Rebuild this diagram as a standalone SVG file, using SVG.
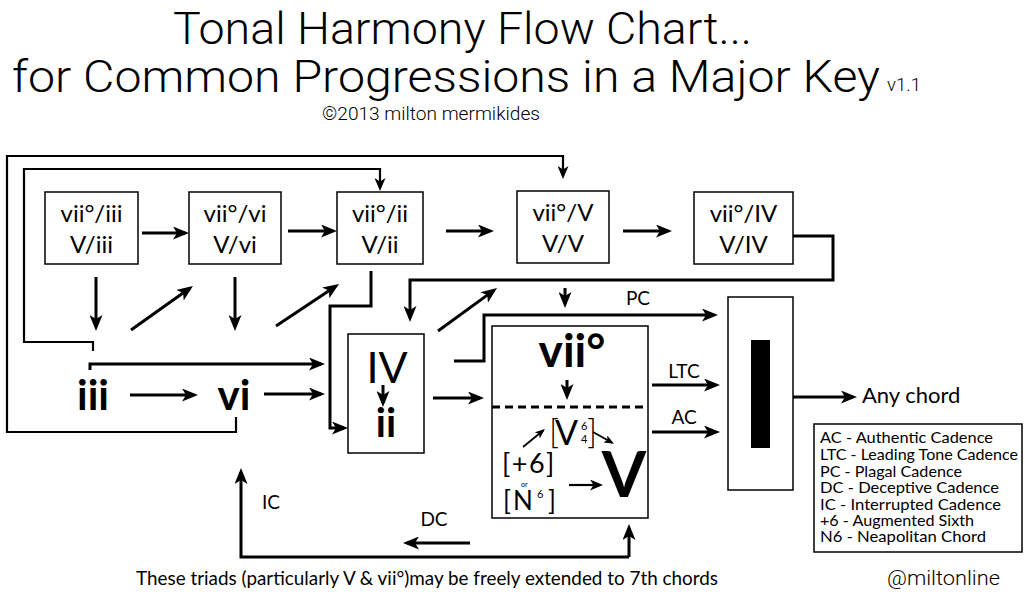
<svg xmlns="http://www.w3.org/2000/svg" width="1025" height="601" viewBox="0 0 1025 601">
<style>
.t{font-family:"Roboto","Liberation Sans",sans-serif;font-weight:300;fill:#000}
.g{font-family:"Lato","Open Sans",sans-serif;fill:#000}
.b{font-weight:700}
.box{fill:#fff;stroke:#000;stroke-width:1.5}
.c{fill:none;stroke:#000;stroke-width:3;marker-end:url(#a)}
.c2{fill:none;stroke:#000;stroke-width:2.2;marker-end:url(#a2)}
.cs{fill:none;stroke:#000;stroke-width:1.8;marker-end:url(#s)}
.lbl{font-size:19px;text-anchor:middle}
.bl{font-size:24px;text-anchor:middle}
.lg{font-size:15px}
</style>
<defs>
<marker id="a" viewBox="0 0 16 13" refX="12" refY="6.5" markerWidth="16" markerHeight="13" markerUnits="userSpaceOnUse" orient="auto"><path d="M0,0 L16,6.5 L0,13 L4,6.5 z" fill="#000"/></marker>
<marker id="a2" viewBox="0 0 13 11" refX="10" refY="5.5" markerWidth="13" markerHeight="11" markerUnits="userSpaceOnUse" orient="auto"><path d="M0,0 L13,5.5 L0,11 L3.5,5.5 z" fill="#000"/></marker>
<marker id="s" viewBox="0 0 10 8" refX="8" refY="4" markerWidth="10" markerHeight="8" markerUnits="userSpaceOnUse" orient="auto"><path d="M0,0 L10,4 L0,8 L2.5,4 z" fill="#000"/></marker>
</defs>
<rect width="1025" height="601" fill="#fff"/>

<g id="title">
<text class="t" x="173" y="44" font-size="44" textLength="579" lengthAdjust="spacingAndGlyphs">Tonal Harmony Flow Chart...</text>
<text class="t" x="12" y="92" font-size="44" textLength="868" lengthAdjust="spacingAndGlyphs">for Common Progressions in a Major Key</text>
<text class="t" x="887" y="91" font-size="19" textLength="34" lengthAdjust="spacingAndGlyphs">v1.1</text>
<text class="t" x="322" y="120" font-size="19" textLength="218" lengthAdjust="spacingAndGlyphs">©2013 milton mermikides</text>
</g>

<g id="n-vii-iii">
<rect class="box" x="45" y="192" width="93" height="72"/>
<text class="g bl" x="91.5" y="222">vii°/iii</text>
<text class="g bl" x="91.5" y="253">V/iii</text>
</g>
<g id="n-vii-vi">
<rect class="box" x="189" y="192" width="92" height="72"/>
<text class="g bl" x="235" y="222">vii°/vi</text>
<text class="g bl" x="235" y="253">V/vi</text>
</g>
<g id="n-vii-ii">
<rect class="box" x="337" y="192" width="86" height="72"/>
<text class="g bl" x="380" y="222">vii°/ii</text>
<text class="g bl" x="380" y="253">V/ii</text>
</g>
<g id="n-vii-V">
<rect class="box" x="517" y="191" width="92" height="72"/>
<text class="g bl" x="563" y="221">vii°/V</text>
<text class="g bl" x="563" y="252">V/V</text>
</g>
<g id="n-vii-IV">
<rect class="box" x="694" y="192" width="99" height="72"/>
<text class="g bl" x="743.5" y="222">vii°/IV</text>
<text class="g bl" x="743.5" y="253">V/IV</text>
</g>

<g id="n-iii">
<text class="g b" x="93" y="410" font-size="42" text-anchor="middle">iii</text>
</g>
<g id="n-vi">
<text class="g b" x="234" y="410" font-size="42" text-anchor="middle">vi</text>
</g>

<g id="n-IV-ii">
<rect class="box" x="348" y="334" width="76" height="119"/>
<text class="g" x="387" y="383" font-size="43" text-anchor="middle">IV</text>
<text class="g b" x="386" y="437" font-size="40" text-anchor="middle">ii</text>
</g>

<g id="n-vii-V-main">
<rect class="box" x="492" y="326" width="156" height="192"/>
<line x1="492" y1="407" x2="648" y2="407" stroke="#000" stroke-width="3" stroke-dasharray="8,5"/>
<text class="g b" x="572" y="367" font-size="46" text-anchor="middle">vii°</text>
<text class="g"><tspan x="549" y="444" font-size="34" font-weight="300">[</tspan><tspan x="555" y="445" font-size="34">V</tspan><tspan x="581" y="430" font-size="11">6</tspan><tspan x="581" y="443" font-size="11">4</tspan><tspan x="587" y="444" font-size="34" font-weight="300">]</tspan></text>
<text class="g"><tspan x="502" y="473" font-size="27" letter-spacing="1.5">[+6]</tspan><tspan x="521" y="487" font-size="7">or</tspan><tspan x="503" y="510" font-size="26" letter-spacing="2">[N</tspan><tspan x="537" y="498" font-size="11">6</tspan><tspan x="548" y="510" font-size="26">]</tspan></text>
<text class="g b" x="624" y="497" font-size="64" text-anchor="middle">V</text>
</g>

<g id="n-I">
<rect class="box" x="728" y="297" width="65" height="193"/>
<rect x="751" y="340" width="19" height="108" fill="#000"/>
</g>

<g id="legend">
<rect class="box" x="814" y="424" width="208" height="128"/>
<text class="g lg" x="820" y="443" textLength="173" lengthAdjust="spacingAndGlyphs">AC - Authentic Cadence</text>
<text class="g lg" x="820" y="460" textLength="198" lengthAdjust="spacingAndGlyphs">LTC - Leading Tone Cadence</text>
<text class="g lg" x="820" y="477" textLength="142" lengthAdjust="spacingAndGlyphs">PC - Plagal Cadence</text>
<text class="g lg" x="820" y="493" textLength="179" lengthAdjust="spacingAndGlyphs">DC - Deceptive Cadence</text>
<text class="g lg" x="820" y="510" textLength="181" lengthAdjust="spacingAndGlyphs">IC - Interrupted Cadence</text>
<text class="g lg" x="820" y="526" textLength="154" lengthAdjust="spacingAndGlyphs">+6 - Augmented Sixth</text>
<text class="g lg" x="820" y="542" textLength="166" lengthAdjust="spacingAndGlyphs">N6 - Neapolitan Chord</text>
</g>

<g id="labels">
<text class="g lbl" x="638" y="305">PC</text>
<text class="g lbl" x="684" y="378">LTC</text>
<text class="g lbl" x="684" y="424">AC</text>
<text class="g lbl" x="434" y="526">DC</text>
<text class="g lbl" x="271" y="509">IC</text>
<text class="g" x="862" y="403" font-size="22">Any chord</text>
</g>

<g id="connectors">
<path class="c2" d="M236,417 V432 H7 V156 H563 V176"/>
<path class="c2" d="M93,351 V342 H24 V169 H380 V188"/>
<path class="c" d="M142,233 H185"/>
<path class="c" d="M288,231 H333"/>
<path class="c" d="M446,231 H490"/>
<path class="c" d="M623,231 H668"/>
<path class="c" d="M96,277 V327"/>
<path class="c" d="M131,330 L189.7,288.3"/>
<path class="c" d="M235,277 V327"/>
<path class="c" d="M276,326 L335.7,286.2"/>
<path class="c" d="M371,271 V306 H330 V428 H344"/>
<path class="c" d="M90,370 V364 H321"/>
<path class="c" d="M130,395 H194"/>
<path class="c" d="M264,394 H321"/>
<path class="c" d="M793,236 H833 V280 H410 V318"/>
<path class="c" d="M438,331 L493.8,290.4"/>
<path class="c" d="M454,361 H484 V315 H714"/>
<path class="c" d="M565,288 V304"/>
<path class="c" d="M383,385 V403"/>
<path class="c" d="M433,398 H480"/>
<path class="c" d="M567,380 V396"/>
<path class="c" d="M652,385 H716"/>
<path class="c" d="M652,432 H716"/>
<path class="c" d="M629,557 H241 V472"/>
<path class="c" d="M629,557 V528"/>
<path class="c" d="M470,543 H407"/>
<path class="c" d="M793,397 H853"/>
<path class="cs" d="M523,447 L543.4,430.3"/>
<path class="cs" d="M593,432 L612.2,442.8"/>
<path class="c2" d="M569,485 H600"/>
</g>

<g id="footer">
<text class="g" x="136" y="585" font-size="19" textLength="582" lengthAdjust="spacingAndGlyphs">These triads (particularly V &amp; vii°)may be freely extended to 7th chords</text>
<text class="t" x="887" y="585" font-size="20" textLength="113" lengthAdjust="spacingAndGlyphs">@miltonline</text>
</g>
</svg>
